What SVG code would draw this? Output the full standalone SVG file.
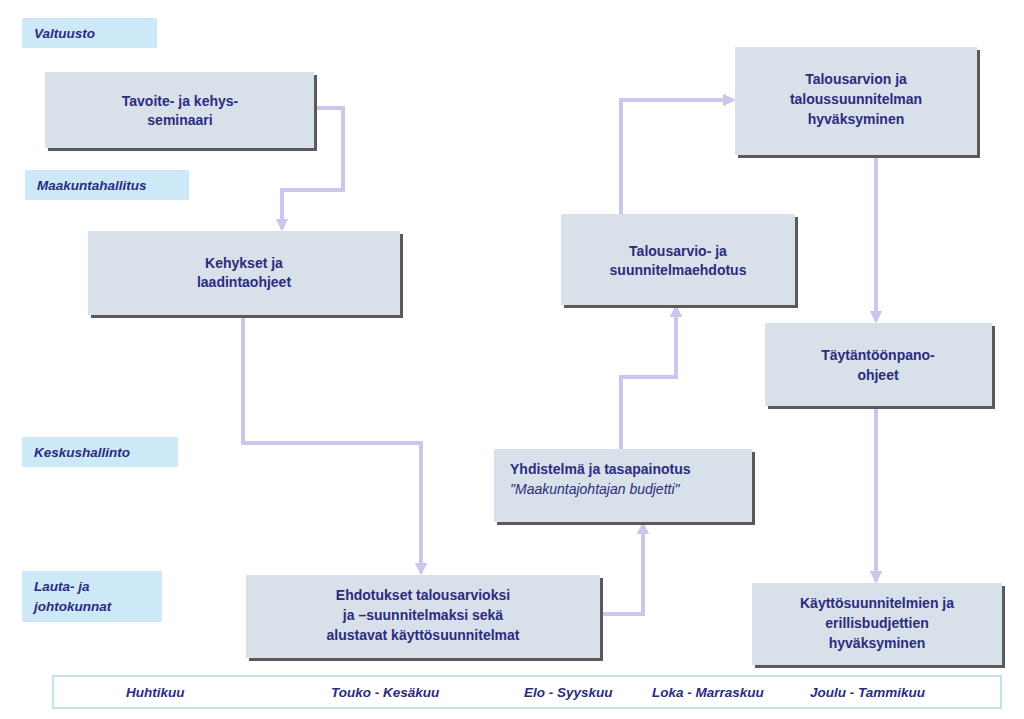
<svg xmlns="http://www.w3.org/2000/svg" width="1024" height="719" viewBox="0 0 1024 719">
<defs>
<marker id="ah" viewBox="0 0 10 10" refX="8" refY="5" markerWidth="3.2" markerHeight="3.2" orient="auto"><path d="M0,0 L10,5 L0,10 z" fill="#c8c8ec"/></marker>
</defs>
<style>
.box{fill:#d8e1e9}
.sh{fill:#5a5a5a}
.band{fill:#cde9f8}
.t{font-family:"Liberation Sans",Arial,sans-serif;font-size:14px;font-weight:bold;fill:#2b2b80;text-anchor:middle}
.l{font-family:"Liberation Sans",Arial,sans-serif;font-size:13.5px;font-weight:bold;font-style:italic;fill:#2b2b80}
.c{fill:none;stroke:#c8c8ec;stroke-width:4;marker-end:url(#ah)}
</style>
<rect width="1024" height="719" fill="#fff"/>
<g id="bands">
<rect class="band" x="22" y="18" width="135" height="30"/><text class="l" x="34" y="38">Valtuusto</text>
<rect class="band" x="25" y="170" width="164" height="30"/><text class="l" x="37" y="190">Maakuntahallitus</text>
<rect class="band" x="22" y="437" width="156" height="30"/><text class="l" x="34" y="457">Keskushallinto</text>
<rect class="band" x="22" y="571" width="140" height="51"/><text class="l" x="34" y="591">Lauta- ja</text><text class="l" x="34" y="611">johtokunnat</text>
</g>
<g id="connectors">
<path class="c" d="M314,108 H343 V190 H282 V229"/>
<path class="c" d="M243,315 V443 H421 V573"/>
<path class="c" d="M600,614 H643 V524"/>
<path class="c" d="M621,449 V377 H676 V307"/>
<path class="c" d="M621,214 V100 H733"/>
<path class="c" d="M876,155 V321"/>
<path class="c" d="M876,406 V581"/>
</g>
<g id="n1"><rect class="sh" x="48" y="75" width="269" height="76"/><rect class="box" x="45" y="72" width="269" height="76"/><text class="t" x="180" y="106">Tavoite- ja kehys-</text><text class="t" x="180" y="125">seminaari</text></g>
<g id="n2"><rect class="sh" x="91" y="234" width="312" height="84"/><rect class="box" x="88" y="231" width="312" height="84"/><text class="t" x="244" y="268">Kehykset ja</text><text class="t" x="244" y="287">laadintaohjeet</text></g>
<g id="n3"><rect class="sh" x="249" y="578" width="354" height="83"/><rect class="box" x="246" y="575" width="354" height="83"/><text class="t" x="423" y="600">Ehdotukset talousarvioksi</text><text class="t" x="423" y="620">ja –suunnitelmaksi sekä</text><text class="t" x="423" y="640">alustavat käyttösuunnitelmat</text></g>
<g id="n4"><rect class="sh" x="497" y="452" width="258" height="73"/><rect class="box" x="494" y="449" width="258" height="73"/><text class="t" x="510" y="474" style="text-anchor:start">Yhdistelmä ja  tasapainotus</text><text class="t" x="510" y="494" style="text-anchor:start;font-weight:normal;font-style:italic">"Maakuntajohtajan  budjetti"</text></g>
<g id="n5"><rect class="sh" x="564" y="217" width="234" height="91"/><rect class="box" x="561" y="214" width="234" height="91"/><text class="t" x="678" y="256">Talousarvio- ja</text><text class="t" x="678" y="275">suunnitelmaehdotus</text></g>
<g id="n6"><rect class="sh" x="738" y="50" width="242" height="108"/><rect class="box" x="735" y="47" width="242" height="108"/><text class="t" x="856" y="84">Talousarvion ja</text><text class="t" x="856" y="104">taloussuunnitelman</text><text class="t" x="856" y="124">hyväksyminen</text></g>
<g id="n7"><rect class="sh" x="768" y="326" width="227" height="83"/><rect class="box" x="765" y="323" width="227" height="83"/><text class="t" x="878" y="360">Täytäntöönpano-</text><text class="t" x="878" y="380">ohjeet</text></g>
<g id="n8"><rect class="sh" x="755" y="586" width="250" height="82"/><rect class="box" x="752" y="583" width="250" height="82"/><text class="t" x="877" y="608">Käyttösuunnitelmien ja</text><text class="t" x="877" y="628">erillisbudjettien</text><text class="t" x="877" y="648">hyväksyminen</text></g>
<g id="months">
<rect x="53" y="676" width="948" height="32" fill="#fff" stroke="#bfe3e8" stroke-width="2"/>
<text class="l" x="126" y="697">Huhtikuu</text>
<text class="l" x="331" y="697">Touko - Kesäkuu</text>
<text class="l" x="524" y="697">Elo - Syyskuu</text>
<text class="l" x="652" y="697">Loka - Marraskuu</text>
<text class="l" x="810" y="697">Joulu - Tammikuu</text>
</g>
</svg>
